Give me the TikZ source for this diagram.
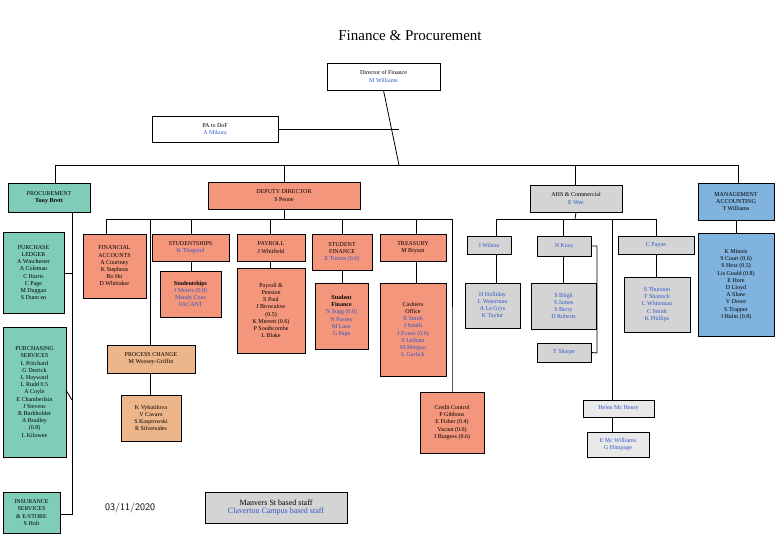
\documentclass[tikz,border=0pt]{standalone}
\usepackage{fontspec}
\setmainfont{Liberation Serif}
\usetikzlibrary{positioning}
\definecolor{salmon}{HTML}{F4967B}
\definecolor{teal}{HTML}{7FCDB9}
\definecolor{peach}{HTML}{EDB68A}
\definecolor{grey}{HTML}{D4D4D4}
\definecolor{lgrey}{HTML}{E9E9E9}
\definecolor{mblue}{HTML}{80B3DE}
\definecolor{bltext}{HTML}{2F55C8}
\newcommand{\bl}[1]{\textcolor{bltext}{#1}}
% box from its corners (pixel units)
\newcommand{\bx}[7]{\node[box,fill=#6,minimum width=#4-#2,minimum height=#5-#3] (#1) at ({(#2+#4)/2},{(#3+#5)/2}) {#7};}
\tikzset{
  box/.style={draw,thick,align=center,inner sep=1pt,font=\fontsize{6}{7.2}\selectfont},
  link/.style={thick}
}
\begin{document}
\begin{tikzpicture}[x=1pt,y=-1pt]
\useasboundingbox (0,0) rectangle (780,540);
\node[font=\fontsize{15}{17}\selectfont] (title) at (410,36) {Finance \& Procurement};
\bx{dof}{327}{63}{440}{90}{white}{Director of Finance\\\bl{M Williams}}
\bx{pa}{152}{116}{278}{142}{white}{PA to DoF\\\bl{A Mikura}}
\bx{proc}{8}{183}{90}{212}{teal}{PROCUREMENT\\\textbf{Tony Brett}}
\bx{dep}{208}{182}{360}{209}{salmon}{DEPUTY DIRECTOR\\S Penne}
\bx{ahs}{530}{185}{622}{212}{grey}{AHS \& Commercial\\\bl{E Wee}}
\bx{mgmt}{698}{183}{774}{220}{mblue}{MANAGEMENT\\ACCOUNTING\\T Williams}
% procurement
\bx{pled}{3}{232}{64}{313}{teal}{PURCHASE\\LEDGER\\A Winchester\\A Coleman\\C Harris\\C Page\\M Duggan\\S Dunn en}
\bx{psrv}{3}{327}{66}{457}{teal}{PURCHASING\\SERVICES\\L Pritchard\\G Derrick\\L Hayward\\L Rudd 0.5\\A Coyle\\E Chamberlain\\J Stevens\\R Burkholder\\A Bradley\\(0.8)\\L Kilowee}
\bx{ins}{3}{492}{60}{533}{teal}{INSURANCE\\SERVICES\\\& E-STORE\\S Holt}
% deputy
\bx{fin}{83}{234}{146}{298}{salmon}{FINANCIAL\\ACCOUNTS\\A Courtney\\K Stephens\\Bo Ho\\D Whittaker}
\bx{stud}{152}{234}{229}{261}{salmon}{STUDENTSHIPS\\\bl{K Thogood}}
\bx{studs}{160}{271}{221}{317}{salmon}{\textbf{Studentships}\\\bl{J Morris (0.8)}\\\bl{Mandy Cons}\\\bl{VACANT}}
\bx{pay}{237}{234}{305}{261}{salmon}{PAYROLL\\J Whitfield}
\bx{pays}{237}{268}{305}{353}{salmon}{Payroll \&\\Pension\\S Paul\\J Brownlow\\(0.5)\\K Merrett (0.6)\\P Southcombe\\L Blake}
\bx{sfin}{312}{234}{372}{270}{salmon}{STUDENT\\FINANCE\\\bl{E Timms (0.6)}}
\bx{sfins}{315}{283}{368}{349}{salmon}{\textbf{Student}\\\textbf{Finance}\\\bl{N Sugg (0.6)}\\\bl{N Pussey}\\\bl{M Lane}\\\bl{G Page}}
\bx{tre}{380}{234}{446}{261}{salmon}{TREASURY\\M Bryant}
\bx{cash}{380}{283}{446}{376}{salmon}{Cashiers\\Office\\\bl{R Smith}\\\bl{J Smith}\\\bl{J Evans (0.6)}\\\bl{S Letham}\\\bl{M Morgan}\\\bl{L Garlick}}
\bx{pc}{107}{345}{195}{373}{peach}{PROCESS CHANGE\\M Woosey-Griffin}
\bx{pcs}{121}{395}{181}{441}{peach}{K Vykutilova\\V Cavaro\\S Kasprowski\\R Silversides}
\bx{cred}{420}{392}{484}{453}{salmon}{Credit Control\\P Gibbons\\E Fisher (0.4)\\Vacant (0.6)\\J Burgess (0.6)}
% AHS
\bx{wil}{467}{236}{511}{254}{grey}{\bl{J Wilson}}
\bx{wils}{465}{283}{520}{328}{grey}{\bl{H Holliday}\\\bl{L Waterman}\\\bl{A Le Grys}\\\bl{K Taylor}}
\bx{kos}{537}{236}{591}{256}{grey}{\bl{N Kosy}}
\bx{koss}{531}{283}{596}{329}{grey}{\bl{S Bligh}\\\bl{S James}\\\bl{S Berry}\\\bl{D Roberts}}
\bx{shp}{537}{343}{591}{362}{grey}{\bl{T Sharpe}}
\bx{pay2}{618}{236}{694}{254}{grey}{\bl{C Payne}}
\bx{pays2}{624}{277}{690}{332}{grey}{\bl{S Thurston}\\\bl{T Shattock}\\\bl{L Whiteman}\\\bl{C Smith}\\\bl{K Phillips}}
\bx{hel}{583}{400}{654}{417}{lgrey}{\bl{Helen Mc Henry}}
\bx{hels}{587}{432}{649}{457}{lgrey}{\bl{E Mc Williams}\\\bl{G Himpage}}
\bx{mgs}{698}{233}{774}{336}{mblue}{K Minnis\\S Court (0.6)\\S Hext (0.5)\\Lis Gould (0.8)\\E Hore\\D Lloyd\\A Shaw\\V Dowe\\S Trapper\\J Hulm (0.8)}
% legend
\bx{leg}{205}{492}{347}{523}{grey}{\fontsize{8}{10}\selectfont Manvers St based staff\\\fontsize{8}{10}\selectfont\bl{Claverton Campus based staff}}
\node[font=\sffamily\fontsize{10}{12}\selectfont] (date) at (130,508) {03/11/2020};
% connectors
\draw[link] (dof.south) -- (399,165);
\draw[link] (pa.east) -- (399,129);
\draw[link] (55,165) -- (738,165);
\draw[link] (55,165) -- (55,183);
\draw[link] (284,165) -- (dep.north);
\draw[link] (575,165) -- (575,185);
\draw[link] (738,165) -- (738,183);
\draw[link] (72,212) -- (72,514) -- (ins.east |- 0,514);
\draw[link] (pled.east |- 0,273) -- (72,273);
\draw[link] (66,390) -- (72,400);
\draw[link] (dep.south) -- (284,219);
\draw[link] (106,219) -- (452,219) -- (452,392) -- (cred.north -| 452,0);
\draw[link] (106,219) -- (fin.north -| 106,0);
\draw[link] (150,219) -- (pc.north -| 150,0);
\draw[link] (191,219) -- (stud.north -| 191,0);
\draw[link] (270,219) -- (pay.north -| 270,0);
\draw[link] (342,219) -- (sfin.north -| 342,0);
\draw[link] (416,219) -- (tre.north -| 416,0);
\draw[link] (stud.south -| 191,0) -- (studs.north -| 191,0);
\draw[link] (pay.south -| 270,0) -- (pays.north -| 270,0);
\draw[link] (sfin.south -| 342,0) -- (sfins.north -| 342,0);
\draw[link] (tre.south -| 416,0) -- (cash.north -| 416,0);
\draw[link] (pc.south -| 150,0) -- (pcs.north -| 150,0);
\draw[link] (ahs.south) -- (575,219);
\draw[link] (496,219) -- (656,219);
\draw[link] (496,219) -- (wil.north -| 496,0);
\draw[link] (563,219) -- (kos.north -| 563,0);
\draw[link] (612,219) -- (hel.north -| 612,0);
\draw[link] (656,219) -- (pay2.north -| 656,0);
\draw[link] (wil.south -| 496,0) -- (wils.north -| 496,0);
\draw[link] (kos.south -| 563,0) -- (koss.north -| 563,0);
\draw[link] (kos.east) -- (597,246) -- (597,353) -- (shp.east);
\draw[link] (pay2.south -| 656,0) -- (pays2.north -| 656,0);
\draw[link] (hel.south -| 612,0) -- (hels.north -| 612,0);
\draw[link] (mgmt.south -| 736,0) -- (mgs.north -| 736,0);
\end{tikzpicture}
\end{document}
